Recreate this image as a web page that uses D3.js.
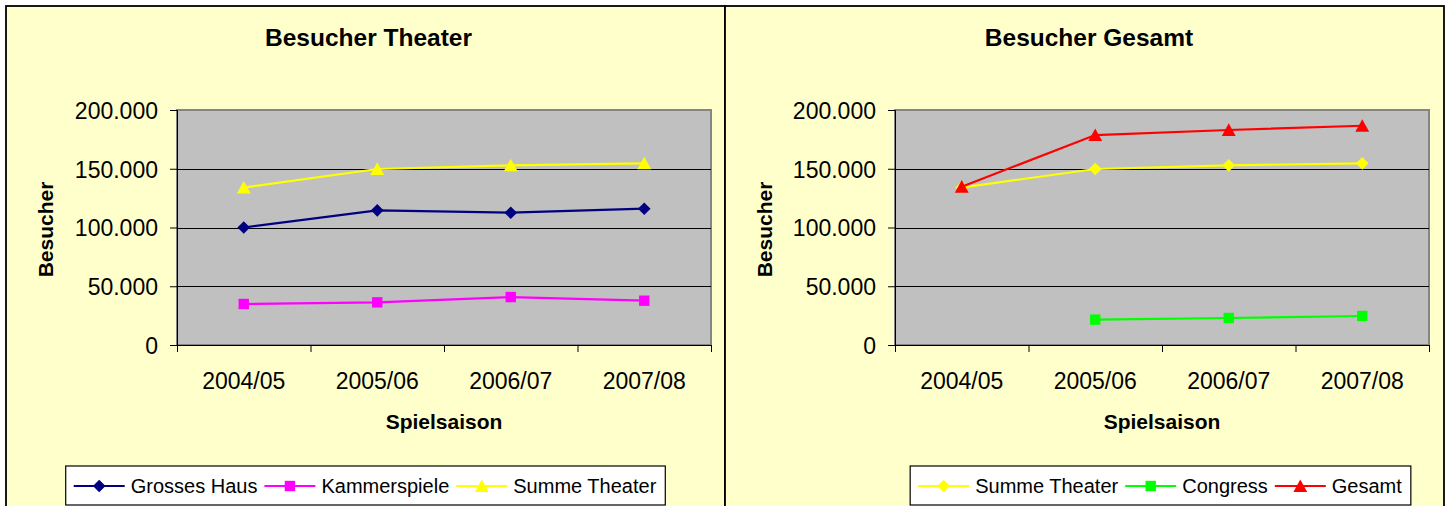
<!DOCTYPE html>
<html>
<head>
<meta charset="utf-8">
<script src="https://cdn.jsdelivr.net/npm/d3@7"></script>
<style>
  html, body { margin: 0; padding: 0; background: #ffffff; }
  svg { display: block; font-family: "Liberation Sans", Arial, sans-serif; }
</style>
</head>
<body>
<svg id="chart" width="1451" height="506"></svg>
<script>
// Seasons on the x axis
const seasons = ["2004/05", "2005/06", "2006/07", "2007/08"];

// Visitor counts per season
const grossesHaus  = [100000, 114600, 112600, 116000];
const kammerspiele = [34900, 36300, 40800, 37700];
const summeTheater = [134000, 149800, 152900, 154600];
const congress     = [null, 21600, 23000, 24700];
const gesamt       = [134700, 178700, 183000, 186600];

// Value axis ticks
const yTicks = [0, 50000, 100000, 150000, 200000];

const de = d3.formatLocale({ decimal: ",", thousands: ".", grouping: [3], currency: ["", " €"] });
const fmt = de.format(",d");

const svg = d3.select("#chart");

// Marker shapes
const markerPath = {
  diamond: s => `M0,${-s}L${s},0L0,${s}L${-s},0Z`,
  square: s => `M${-s},${-s}H${s}V${s}H${-s}Z`,
  triangle: s => `M0,${-s * 1.05}L${s * 1.1},${s * 0.95}L${-s * 1.1},${s * 0.95}Z`
};
const markerSize = { diamond: 6.3, square: 5.2, triangle: 6.3 };

function drawChart(cfg) {
  const g = svg.append("g");

  // Chart frame
  g.append("rect")
    .attr("x", cfg.frame[0]).attr("y", cfg.frame[1])
    .attr("width", cfg.frame[2]).attr("height", cfg.frame[3])
    .attr("fill", "#ffffcc").attr("stroke", "#000").attr("stroke-width", 1.8);

  const x = d3.scaleBand().domain(seasons).range([cfg.plot.x0, cfg.plot.x1]).paddingInner(0).paddingOuter(0);
  const y = d3.scaleLinear().domain([0, 200000]).range([cfg.plot.y1, cfg.plot.y0]);
  const xEdge = d3.scaleLinear().domain([0, seasons.length]).range([cfg.plot.x0, cfg.plot.x1]);

  // Plot area
  g.append("rect")
    .attr("x", cfg.plot.x0).attr("y", cfg.plot.y0)
    .attr("width", cfg.plot.x1 - cfg.plot.x0).attr("height", cfg.plot.y1 - cfg.plot.y0)
    .attr("fill", "#c0c0c0").attr("stroke", "#858585").attr("stroke-width", 2);

  // Gridlines
  g.append("g")
    .selectAll("line")
    .data(yTicks.filter(t => t > 0 && t < 200000))
    .join("line")
    .attr("x1", cfg.plot.x0).attr("x2", cfg.plot.x1)
    .attr("y1", d => Math.round(y(d)) + 0.5).attr("y2", d => Math.round(y(d)) + 0.5)
    .attr("stroke", "#000").attr("stroke-width", 1);

  // Y axis
  const yAxis = g.append("g")
    .attr("transform", `translate(${cfg.plot.x0},0)`)
    .call(d3.axisLeft(y).tickValues(yTicks).tickFormat(fmt).tickSize(7).tickPadding(12));
  yAxis.selectAll("text").attr("font-size", 23).attr("fill", "#000").attr("dy", "0.36em");
  yAxis.selectAll("line, path").attr("stroke", "#000");

  // X axis: ticks at category boundaries, labels centred in each category
  const xTickAxis = g.append("g")
    .attr("transform", `translate(0,${cfg.plot.y1})`)
    .call(d3.axisBottom(xEdge).tickValues(d3.range(seasons.length + 1)).tickFormat("").tickSize(7).tickSizeOuter(0));
  xTickAxis.selectAll("line, path").attr("stroke", "#000");

  const xLabelAxis = g.append("g")
    .attr("transform", `translate(0,${cfg.plot.y1})`)
    .call(d3.axisBottom(x).tickSize(0).tickPadding(28));
  xLabelAxis.select("path").remove();
  xLabelAxis.selectAll("text").attr("font-size", 23).attr("fill", "#000");

  // Titles
  g.append("text")
    .attr("x", cfg.titleX).attr("y", 46)
    .attr("text-anchor", "middle").attr("font-size", 24.5).attr("font-weight", "bold")
    .text(cfg.title);
  g.append("text")
    .attr("x", (cfg.plot.x0 + cfg.plot.x1) / 2).attr("y", 429)
    .attr("text-anchor", "middle").attr("font-size", 21).attr("font-weight", "bold")
    .text("Spielsaison");
  g.append("text")
    .attr("transform", `translate(${cfg.frame[0] + 47},${(cfg.plot.y0 + cfg.plot.y1) / 2 + 2}) rotate(-90)`)
    .attr("text-anchor", "middle").attr("font-size", 21).attr("font-weight", "bold")
    .text("Besucher");

  // Series
  const line = d3.line()
    .defined(d => d.v != null)
    .x(d => x(d.s) + x.bandwidth() / 2)
    .y(d => y(d.v));

  cfg.series.forEach(s => {
    const pts = seasons.map((season, i) => ({ s: season, v: s.values[i] }));
    g.append("path")
      .datum(pts)
      .attr("d", line)
      .attr("fill", "none").attr("stroke", s.color).attr("stroke-width", 2.2);
    g.append("g")
      .selectAll("path")
      .data(pts.filter(d => d.v != null))
      .join("path")
      .attr("transform", d => `translate(${x(d.s) + x.bandwidth() / 2},${y(d.v)})`)
      .attr("d", markerPath[s.marker](markerSize[s.marker]))
      .attr("fill", s.color);
  });

  // Legend
  const lg = g.append("g");
  const box = lg.append("rect")
    .attr("fill", "#fff").attr("stroke", "#000").attr("stroke-width", 1.2);
  let cx = 8;
  cfg.series.forEach(s => {
    const it = lg.append("g").attr("transform", `translate(${cx},0)`);
    it.append("line").attr("x1", 0).attr("x2", 51).attr("y1", 20).attr("y2", 20)
      .attr("stroke", s.color).attr("stroke-width", 2.2);
    it.append("path").attr("transform", "translate(25.5,20)")
      .attr("d", markerPath[s.marker](markerSize[s.marker]))
      .attr("fill", s.color);
    const t = it.append("text").attr("x", 57).attr("y", 27)
      .attr("font-size", 20).attr("fill", "#000").text(s.name);
    cx += 57 + t.node().getComputedTextLength() + 7;
  });
  const w = cx + 2;
  box.attr("x", 0).attr("y", 0).attr("width", w).attr("height", 39);
  lg.attr("transform", `translate(${cfg.legendCenter - w / 2},466)`);
}

drawChart({
  frame: [6, 6, 719, 520],
  plot: { x0: 177, x1: 711, y0: 110, y1: 345 },
  title: "Besucher Theater",
  titleX: 368.5,
  legendCenter: 365.5,
  series: [
    { name: "Grosses Haus", values: grossesHaus, color: "#000080", marker: "diamond" },
    { name: "Kammerspiele", values: kammerspiele, color: "#ff00ff", marker: "square" },
    { name: "Summe Theater", values: summeTheater, color: "#ffff00", marker: "triangle" }
  ]
});

drawChart({
  frame: [725, 6, 719, 520],
  plot: { x0: 895, x1: 1429, y0: 110, y1: 345 },
  title: "Besucher Gesamt",
  titleX: 1089,
  legendCenter: 1160.5,
  series: [
    { name: "Summe Theater", values: summeTheater, color: "#ffff00", marker: "diamond" },
    { name: "Congress", values: congress, color: "#00ff00", marker: "square" },
    { name: "Gesamt", values: gesamt, color: "#ff0000", marker: "triangle" }
  ]
});
</script>
</body>
</html>
